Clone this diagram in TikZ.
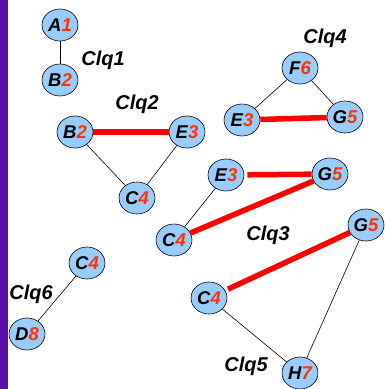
\documentclass[tikz,border=0pt]{standalone}
\usepackage{fontspec}
\setmainfont{Liberation Sans}
\usetikzlibrary{shapes.geometric}
\definecolor{nodefill}{HTML}{99CCFF}
\definecolor{numred}{HTML}{FF3300}
\definecolor{barpurple}{HTML}{5A0DA8}
\begin{document}
\begin{tikzpicture}[x=1pt,y=-1pt,
  vnode/.style={ellipse,draw=black,line width=0.6pt,fill=nodefill,minimum width=36pt,minimum height=32pt,inner sep=0pt,font=\fontsize{18.5}{18.5}\selectfont\bfseries\itshape},
  clq/.style={font=\fontsize{20}{20}\selectfont\bfseries\itshape},
  thin edge/.style={draw=black,line width=0.6pt},
  sep edge/.style={draw=red,line width=5.5pt}]
\useasboundingbox (0,0) rectangle (384,389);
\fill[barpurple] (0,0) rectangle (8,389);
% Clq1
\node[vnode] (a1) at (60,25) {A\textcolor{numred}{1}};
\node[vnode] (b2a) at (60,80) {B\textcolor{numred}{2}};
\node[clq] (l1) at (103,60) {Clq1};
% Clq4
\node[vnode] (f6) at (300,68) {F\textcolor{numred}{6}};
\node[vnode] (e3a) at (242,120) {E\textcolor{numred}{3}};
\node[vnode] (g5a) at (345,117) {G\textcolor{numred}{5}};
\node[clq] (l4) at (325,38) {Clq4};
% Clq2
\node[vnode] (b2b) at (75,132) {B\textcolor{numred}{2}};
\node[vnode] (e3b) at (187,132) {E\textcolor{numred}{3}};
\node[vnode] (c4a) at (137,198) {C\textcolor{numred}{4}};
\node[clq] (l2) at (137,104) {Clq2};
% Clq3
\node[vnode] (e3c) at (226,175) {E\textcolor{numred}{3}};
\node[vnode] (g5b) at (330,174) {G\textcolor{numred}{5}};
\node[vnode] (c4b) at (174,240) {C\textcolor{numred}{4}};
\node[clq] (l3) at (268,235) {Clq3};
% Clq5
\node[vnode] (g5c) at (366,225) {G\textcolor{numred}{5}};
\node[vnode] (c4c) at (209,298) {C\textcolor{numred}{4}};
\node[vnode] (h7) at (300,373) {H\textcolor{numred}{7}};
\node[clq] (l5) at (246,366) {Clq5};
% Clq6
\node[vnode] (c4d) at (87,263) {C\textcolor{numred}{4}};
\node[vnode] (d8) at (27,334) {D\textcolor{numred}{8}};
\node[clq] (l6) at (31,294) {Clq6};
% edges
\draw[thin edge] (a1) -- (b2a);
\draw[thin edge] (f6) -- (e3a);
\draw[thin edge] (f6) -- (g5a);
\draw[sep edge] (e3a) -- (g5a);
\draw[sep edge] (b2b) -- (e3b);
\draw[thin edge] (b2b) -- (c4a);
\draw[thin edge] (e3b) -- (c4a);
\draw[sep edge,shorten <=3pt] (e3c) -- (g5b);
\draw[sep edge] (c4b) -- (g5b);
\draw[thin edge] (e3c) -- (c4b);
\draw[sep edge,shorten <=3pt] (c4c) -- (g5c);
\draw[thin edge] (c4c) -- (h7);
\draw[thin edge] (g5c) -- (h7);
\draw[thin edge] (c4d) -- (d8);
\end{tikzpicture}
\end{document}
